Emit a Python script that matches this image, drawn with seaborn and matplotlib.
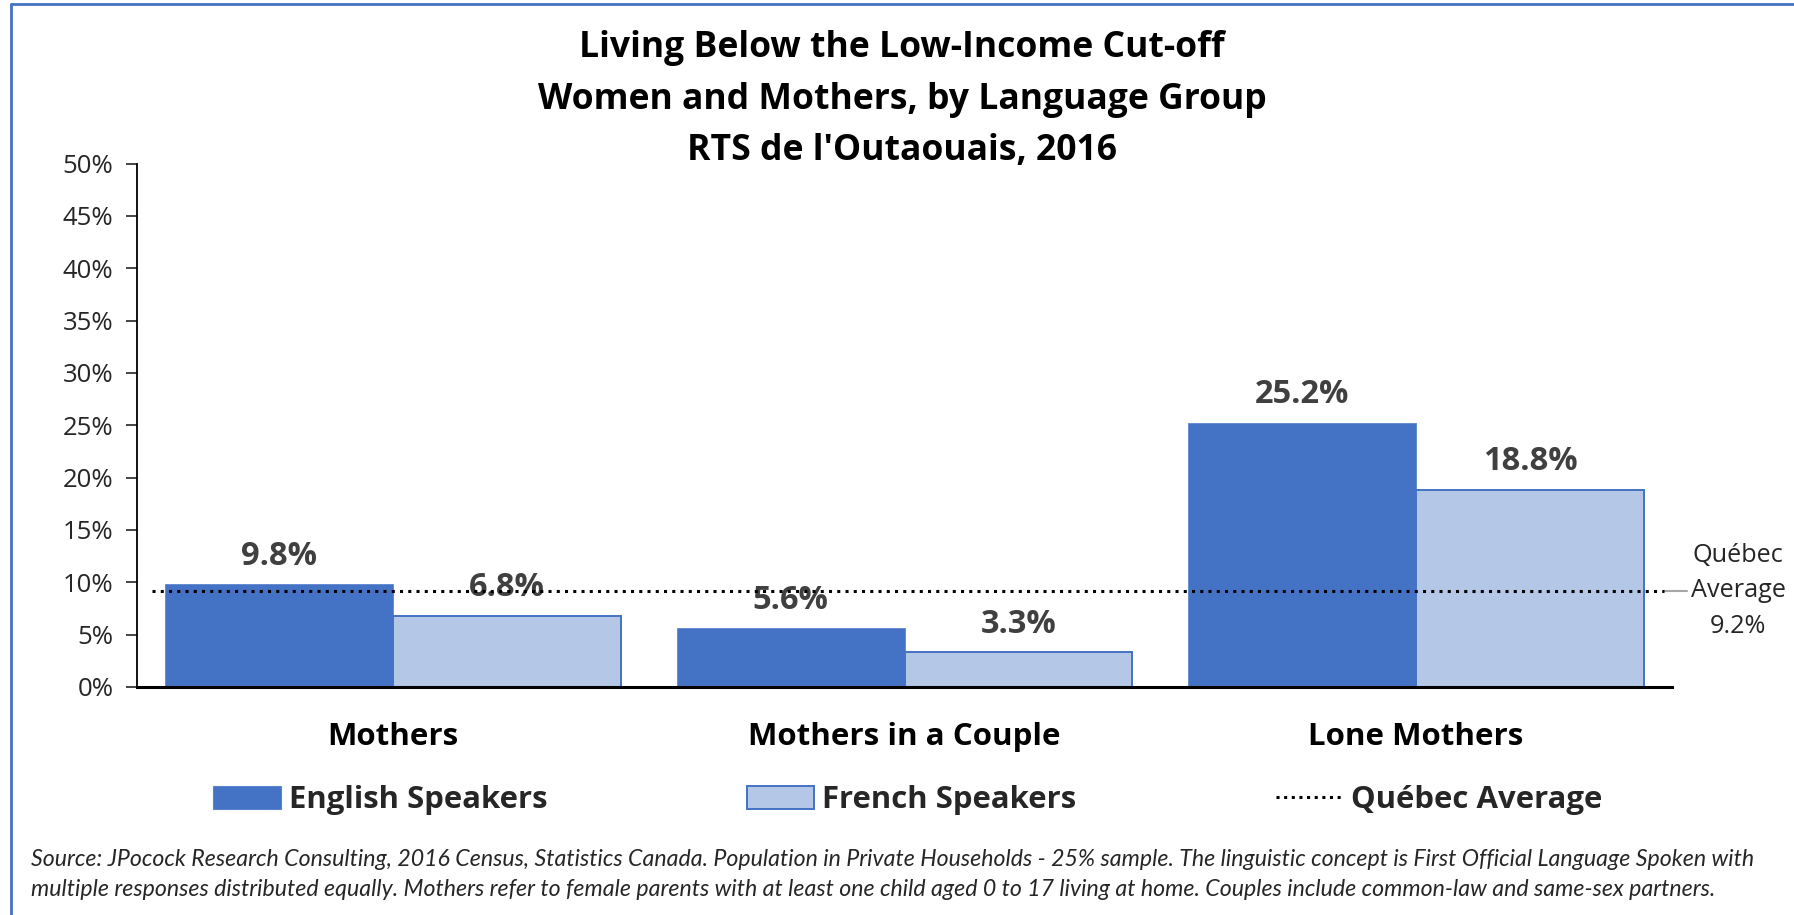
import matplotlib
matplotlib.use("Agg")
import matplotlib.pyplot as plt
import seaborn as sns
import pandas as pd
from matplotlib.patches import Patch
from matplotlib.lines import Line2D

# ---- data ----
categories = ["Mothers", "Mothers in a Couple", "Lone Mothers"]
english_values = [9.8, 5.6, 25.2]
french_values = [6.8, 3.3, 18.8]
series_names = ["English Speakers", "French Speakers"]
quebec_average = 9.2
quebec_label = "Québec Average"
ytick_values = [0, 5, 10, 15, 20, 25, 30, 35, 40, 45, 50]
title_lines = ["Living Below the Low-Income Cut-off",
               "Women and Mothers, by Language Group",
               "RTS de l'Outaouais, 2016"]
footnote_lines = [
    "Source: JPocock Research Consulting, 2016 Census, Statistics Canada. Population in Private Households - 25% sample. The linguistic concept is First Official Language Spoken with",
    "multiple responses distributed equally. Mothers refer to female parents with at least one child aged 0 to 17 living at home. Couples include common-law and same-sex partners.",
]

df = pd.DataFrame({
    "category": categories * 2,
    "series": [series_names[0]] * 3 + [series_names[1]] * 3,
    "value": english_values + french_values,
})

DARK_BLUE = "#4472C4"
LIGHT_BLUE = "#B4C7E7"
MAIN_FONT = "Open Sans"
NOTE_FONT = "Lato"

sns.set_theme(style="white")
plt.rcParams["font.family"] = [MAIN_FONT, "DejaVu Sans"]

W, H = 1794, 915
fig = plt.figure(figsize=(W / 100, H / 100), dpi=100)
fig.patch.set_facecolor("white")

ax = fig.add_axes([137 / W, 1 - 687 / H, (1672 - 137) / W, (687 - 163.6) / H])

sns.barplot(data=df, x="category", y="value", hue="series",
            palette=[DARK_BLUE, LIGHT_BLUE], width=0.89, gap=0,
            saturation=1, legend=False, ax=ax, errorbar=None)

for bar in ax.patches:
    fc = matplotlib.colors.to_hex(bar.get_facecolor())
    if fc.lower() == LIGHT_BLUE.lower():
        bar.set_edgecolor(DARK_BLUE)
        bar.set_linewidth(1.4)
    else:
        bar.set_edgecolor("#5B86CF")
        bar.set_linewidth(0.6)

ax.set_xlim(-0.5, 2.5)
ax.set_ylim(0, 50)
ax.set_yticks(ytick_values)
ax.set_yticklabels([f"{v}%" for v in ytick_values], fontsize=18.5, color="#262626")
ax.tick_params(axis="y", direction="out", length=8, width=1.2, color="#262626",
               pad=9, left=True)
ax.tick_params(axis="x", length=0, pad=25.5)
for lbl in ax.get_xticklabels():
    lbl.set_fontsize(22.5)
    lbl.set_fontweight("bold")
    lbl.set_color("black")
ax.set_xlabel("")
ax.set_ylabel("")
for s in ["top", "right"]:
    ax.spines[s].set_visible(False)
ax.spines["left"].set_color("black")
ax.spines["left"].set_linewidth(1.3)
ax.spines["bottom"].set_color("black")
ax.spines["bottom"].set_linewidth(2.2)
ax.grid(False)

# value labels
for cont in ax.containers:
    ax.bar_label(cont, labels=[f"{v:.1f}%" for v in cont.datavalues],
                 padding=8.5, fontsize=23.5, fontweight="bold", color="#404040")

# Québec average dotted line
ax.plot([-0.47, 2.485], [quebec_average, quebec_average], linestyle=(0, (1, 1.7)),
        color="black", linewidth=2.2, zorder=3)
# leader + label
ax.plot([0.995, 1.0095], [quebec_average, quebec_average], transform=ax.get_yaxis_transform(),
        color="#A6A6A6", linewidth=1.5, clip_on=False)
ax.text(1.043, quebec_average, f"Québec\nAverage\n{quebec_average}%",
        transform=ax.get_yaxis_transform(), ha="center", va="center",
        fontsize=18.2, color="#262626", linespacing=1.55, clip_on=False)

# titles
for line, ypx in zip(title_lines, [48, 100, 151]):
    fig.text(902 / W, 1 - ypx / H, line, ha="center", va="center",
             fontsize=25.6, fontweight="bold", color="black")

# legend
handles = [Patch(facecolor=DARK_BLUE, edgecolor="#5B86CF", linewidth=0.8),
           Patch(facecolor=LIGHT_BLUE, edgecolor=DARK_BLUE, linewidth=1.4),
           Line2D([0], [0], color="black", linestyle=(0, (1, 1.5)), linewidth=2.2)]
labels = series_names + [quebec_label]
leg = fig.legend(handles, labels, loc="center", bbox_to_anchor=(908 / W, 1 - 800 / H),
                 ncol=3, frameon=False, handlelength=2.17, handleheight=0.75,
                 handletextpad=0.26, columnspacing=6.4,
                 prop={"family": MAIN_FONT, "weight": "bold", "size": 22.4})

# footnote
for line, ypx in zip(footnote_lines, [860, 889]):
    fig.text(31 / W, 1 - ypx / H, line, ha="left", va="center", fontsize=16.7,
             style="italic", color="#262626", family=[NOTE_FONT, "DejaVu Sans"])

# border (left and top)
fig.add_artist(Line2D([11 / W, 11 / W], [0, 1 - 4 / H], transform=fig.transFigure,
                      color=DARK_BLUE, linewidth=2))
fig.add_artist(Line2D([11 / W, 1], [1 - 4 / H, 1 - 4 / H], transform=fig.transFigure,
                      color=DARK_BLUE, linewidth=2))

fig.savefig("out.png", dpi=100, facecolor="white")
